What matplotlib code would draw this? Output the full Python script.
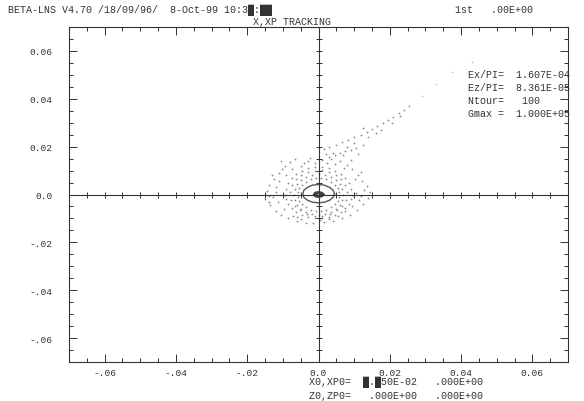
import numpy as np
import matplotlib
matplotlib.use('Agg')
import matplotlib.pyplot as plt

plt.rcParams['font.family'] = ['Liberation Mono', 'DejaVu Sans Mono']

# tracking points, units of 1e-3
core_x = [1.2, 0.8, 0.0, -0.8, -1.2, -0.8, 0.0, 0.8, 1.2]
core_y = [0.0, 0.6, 0.8, 0.6, 0.0, -0.6, -0.8, -0.6, 0.0]

ell_x = [4.5, 4.1, 3.1, 1.7, 0.0, -1.7, -3.1, -4.1, -4.4, -4.1, -3.1, -1.7, 0.0, 1.7, 3.1, 4.1, 4.5]
ell_y = [0.3, 1.8, 3.0, 3.9, 4.2, 3.9, 3.0, 1.8, 0.3, -1.2, -2.4, -3.2, -3.5, -3.2, -2.4, -1.2, 0.3]

ringa_x = [5.75, 5.36, 4.6, 3.53, 2.22, 0.76, -0.76, -2.22, -3.53, -4.6, -5.36, -5.75,
           -5.75, -5.36, -4.6, -3.53, -2.22, -0.76, 0.76, 2.22, 3.53, 4.6, 5.36, 5.75]
ringa_y = [0.89, 2.6, 4.14, 5.39, 6.28, 6.74, 6.74, 6.28, 5.39, 4.14, 2.6, 0.89,
           -0.89, -2.6, -4.14, -5.39, -6.28, -6.74, -6.74, -6.28, -5.39, -4.14, -2.6, -0.89]

ringb_x = [6.8, 6.6, 5.9, 4.8, 3.4, 1.8, 0.0, -1.8, -3.4, -4.8, -5.9, -6.6,
           -6.8, -6.6, -5.9, -4.8, -3.4, -1.8, 0.0, 1.8, 3.4, 4.8, 5.9, 6.6]
ringb_y = [0.0, 2.2, 4.2, 5.9, 7.3, 8.1, 8.4, 8.1, 7.3, 5.9, 4.2, 2.2,
           0.0, -2.2, -4.2, -5.9, -7.3, -8.1, -8.4, -8.1, -7.3, -5.9, -4.2, -2.2]

ringd_x = [8.0, 7.5, 6.4, 4.9, 3.0, 1.0, -1.0, -3.0, -4.9, -6.4, -7.5, -8.0,
           -7.6, -6.6, -5.1, -3.2, -1.1, 1.1, 3.2, 5.1, 6.6, 7.6]
ringd_y = [1.0, 4.0, 6.5, 8.3, 9.5, 10.1, 10.0, 9.4, 8.2, 6.4, 4.0, 1.0,
           -2.2, -4.6, -6.6, -8.0, -8.8, -8.8, -8.0, -6.6, -4.6, -2.2]

ringc_x = [9.3, 9.1, 8.5, 7.5, 6.2, 4.7, 2.9, 1.0, -1.0, -2.9, -4.7, -6.2, -7.5, -8.5, -9.1,
           -9.3, -9.1, -8.5, -7.5, -6.2, -4.7, -2.9, -1.0, 1.0, 2.9, 4.7, 6.2, 7.5, 8.5, 9.1]
ringc_y = [0.0, 2.4, 4.7, 6.8, 8.5, 10.0, 10.9, 11.4, 11.4, 10.9, 10.0, 8.5, 6.8, 4.7, 2.4,
           0.0, -2.0, -4.0, -5.8, -7.3, -8.5, -9.3, -9.8, -9.8, -9.3, -8.5, -7.3, -5.8, -4.0, -2.0]

outer_x = [-14.5, -13.8, -12.5, -11.0, -9.5, -10.5, -8.0, -6.5, -4.0, -2.5, -12.0, -11.2, -13.0,
           -7.5, -5.0, -10.2, -14.0, -3.0,
           -15.0, -13.5, -12.0, -10.5, -8.5, -6.0, -3.5, -11.5, -12.8, -9.8, -7.2, -4.8, -1.5, -13.8,
           1.5, 4.0, 6.5, 8.8, 10.8, 12.5, 13.8, 11.5, 9.5, 3.0, 7.5, 5.5,
           14.5, 13.5, 12.2, 11.0, 9.5, 8.0, 6.0, 3.5, 1.0, 12.8, 10.2, 7.2, 4.5, 11.8, 9.0, 6.8, 4.0, 2.0,
           -6.0, 0.5, -9.0, 10.5, 12.0, -1.0, -12.0, 2.5]
outer_y = [1.5, 4.0, 6.5, 9.0, 12.0, 14.0, 13.5, 14.8, 13.0, 15.2, 3.0, 5.5, 8.2,
           10.8, 12.0, 10.5, -0.5, 13.8,
           -2.0, -4.5, -6.8, -8.5, -10.0, -11.2, -11.8, -3.0, -1.2, -6.2, -8.8, -10.2, -12.0, -3.2,
           -11.5, -11.0, -10.0, -8.5, -6.5, -4.0, -1.5, -2.5, -5.0, -10.2, -7.0, -8.9,
           1.0, 3.5, 5.8, 8.0, 10.5, 12.5, 14.0, 15.0, 14.5, 2.0, 6.5, 11.0, 12.8, 9.5, 14.5, 16.5, 17.5, 16.8,
           -9.5, -10.8, 8.0, 0.5, -0.8, 13.0, 1.0, 13.2]

tail_x = [3.0, 4.5, 6.0, 7.5, 9.0, 10.5, 11.0, 12.5, 10.0, 8.0,
          1.5, 3.0, 4.8, 6.5, 8.2, 10.0, 11.8, 13.5, 15.0, 16.5, 18.0, 14.0, 16.0, 17.5, 12.5,
          19.5, 21.0, 22.5, 24.0, 25.5, 20.5, 23.0]
tail_y = [15.8, 16.5, 17.2, 18.0, 18.6, 19.5, 17.0, 20.5, 21.5, 20.0,
          19.0, 19.8, 20.8, 21.8, 22.8, 24.0, 25.0, 26.2, 27.5, 28.5, 29.8, 24.0, 25.5, 27.0, 27.8,
          31.0, 32.5, 34.0, 35.5, 37.0, 30.0, 33.0]

# faint far end of the tail
far_x = [29.0, 33.0, 37.5, 43.0]
far_y = [41.0, 46.0, 51.0, 55.5]

xtick_vals = [-0.06, -0.04, -0.02, 0.0, 0.02, 0.04, 0.06]
xtick_lbls = ['-.06', '-.04', '-.02', '0.0', '0.02', '0.04', '0.06']
ytick_vals = [-0.06, -0.04, -0.02, 0.0, 0.02, 0.04, 0.06]
ytick_lbls = ['-.06', '-.04', '-.02', '0.0', '0.02', '0.04', '0.06']

header = 'BETA-LNS V4.70 /18/09/96/  8-Oct-99 10:3\u2588:\u2588\u2588'
corner = '1st   .00E+00'
title = 'X,XP TRACKING'
info = ['Ex/PI=  1.607E-04', 'Ez/PI=  8.361E-05', 'Ntour=   100', 'Gmax =  1.000E+05']
init = ['X0,XP0=  \u2588.\u258850E-02   .000E+00', 'Z0,ZP0=   .000E+00   .000E+00']

ink = '#333333'
dot = '#8a8a8a'

fig = plt.figure(figsize=(5.84, 4.02), dpi=100)
ax = fig.add_axes([69/584, 39/402, 499/584, 335/402])
ax.set_xlim(-0.07, 0.07)
ax.set_ylim(-0.07, 0.07)

k = 1e-3
for xs, ys in [(ringa_x, ringa_y), (ringb_x, ringb_y), (ringd_x, ringd_y),
               (ringc_x, ringc_y), (outer_x, outer_y), (tail_x, tail_y)]:
    ax.plot(np.array(xs)*k, np.array(ys)*k, 'o', ms=1.3, mew=0, color=dot)
ax.plot(np.array(far_x)*k, np.array(far_y)*k, 'o', ms=1.1, mew=0, color='#b5b5b5')
ax.plot(np.array(ell_x)*k, np.array(ell_y)*k, '-', lw=1.0, color='#555555')
ax.plot(np.array(core_x)*k, np.array(core_y)*k, '-', lw=2.2, color='#444444')

# central cross with its own ticks
ax.axhline(0, color=ink, lw=0.8)
ax.axvline(0, color=ink, lw=0.8)
minor = np.linspace(-0.07, 0.07, 29)
ax.plot(minor, np.zeros_like(minor), '|', ms=5, mew=0.7, color=ink)
ax.plot(np.zeros_like(minor), minor, '_', ms=5, mew=0.7, color=ink)

ax.set_xticks(xtick_vals, xtick_lbls)
ax.set_yticks(ytick_vals, ytick_lbls)
ax.set_xticks(minor, minor=True)
ax.set_yticks(minor, minor=True)
ax.tick_params(which='both', direction='in', top=True, right=True, color=ink, width=0.7)
ax.tick_params(which='major', length=6, labelsize=6.8, labelcolor=ink)
ax.tick_params(which='minor', length=3)
ax.tick_params(axis='x', pad=4)
ax.tick_params(axis='y', pad=12)
for s in ax.spines.values():
    s.set_color(ink)
    s.set_linewidth(0.8)

fig.text(8/584, 1 - 10/402, header, fontsize=7.2, color=ink, va='center')
fig.text(455/584, 1 - 10/402, corner, fontsize=7.2, color=ink, va='center')
fig.text(292/584, 1 - 22/402, title, fontsize=7.2, color=ink, va='center', ha='center')
for i, line in enumerate(info):
    fig.text(468/584, 1 - (75 + 13*i)/402, line, fontsize=7.2, color=ink, va='center')
for i, line in enumerate(init):
    fig.text(309/584, 1 - (382 + 14*i)/402, line, fontsize=7.2, color=ink, va='center')

fig.savefig('out.png', dpi=100)
